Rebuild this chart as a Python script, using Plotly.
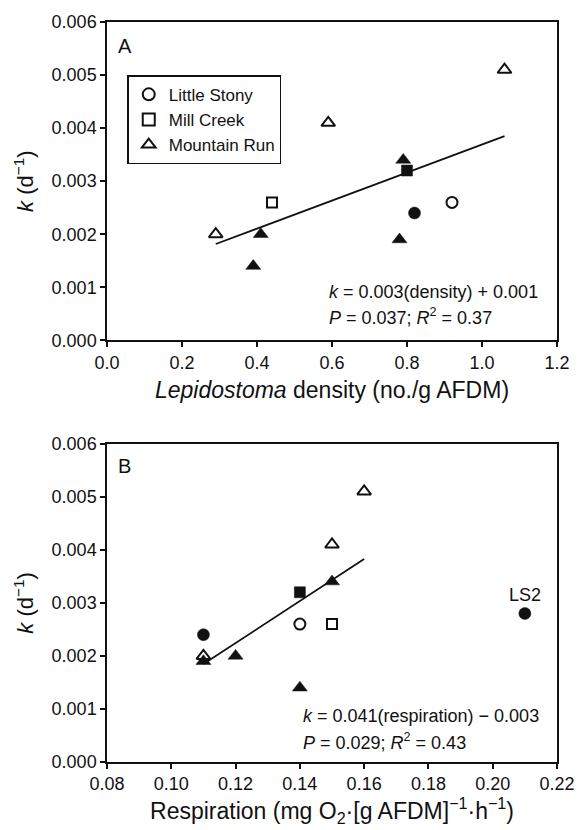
import plotly.graph_objects as go
from plotly.subplots import make_subplots

# ---- Panel A: Lepidostoma density vs k ----
a_ls_open_x = [0.92]; a_ls_open_y = [0.0026]
a_ls_fill_x = [0.82]; a_ls_fill_y = [0.0024]
a_mc_open_x = [0.44]; a_mc_open_y = [0.0026]
a_mc_fill_x = [0.80]; a_mc_fill_y = [0.0032]
a_mr_open_x = [0.29, 0.59, 1.06]; a_mr_open_y = [0.0020, 0.0041, 0.0051]
a_mr_fill_x = [0.39, 0.41, 0.78, 0.79]; a_mr_fill_y = [0.0014, 0.0020, 0.0019, 0.0034]
a_fit_x = [0.29, 1.06]; a_fit_slope = 0.00264; a_fit_icpt = 0.00105

# ---- Panel B: respiration vs k ----
b_ls_open_x = [0.14]; b_ls_open_y = [0.0026]
b_ls_fill_x = [0.11, 0.21]; b_ls_fill_y = [0.0024, 0.0028]
b_mc_open_x = [0.15]; b_mc_open_y = [0.0026]
b_mc_fill_x = [0.14]; b_mc_fill_y = [0.0032]
b_mr_open_x = [0.11, 0.15, 0.16]; b_mr_open_y = [0.0020, 0.0041, 0.0051]
b_mr_fill_x = [0.11, 0.12, 0.14, 0.15]; b_mr_fill_y = [0.0019, 0.0020, 0.0014, 0.0034]
b_fit_x = [0.11, 0.16]; b_fit_slope = 0.0396; b_fit_icpt = -0.00251

y_ticks = [0.000, 0.001, 0.002, 0.003, 0.004, 0.005, 0.006]
a_x_ticks = [0.0, 0.2, 0.4, 0.6, 0.8, 1.0, 1.2]
b_x_ticks = [0.08, 0.10, 0.12, 0.14, 0.16, 0.18, 0.20, 0.22]

FONT = "Liberation Sans, Arial, sans-serif"
BLACK = "#111111"

fig = make_subplots(rows=2, cols=1, vertical_spacing=0.1397)

def pts(x, y, sym, filled, row, name=None, legend=False, size=11):
    fig.add_trace(go.Scatter(
        x=x, y=y, mode="markers", name=name or "", showlegend=legend,
        marker=dict(symbol=sym, size=size,
                    color=BLACK if filled else "white",
                    line=dict(color=BLACK, width=2 if not filled else 0.5))),
        row=row, col=1)

def line(xs, slope, icpt, row):
    ys = [slope * v + icpt for v in xs]
    fig.add_trace(go.Scatter(x=xs, y=ys, mode="lines", showlegend=False,
                             line=dict(color=BLACK, width=1.8)), row=row, col=1)

line(a_fit_x, a_fit_slope, a_fit_icpt, 1)
pts(a_ls_open_x, a_ls_open_y, "circle", False, 1, "Little Stony", True, 11)
pts(a_mc_open_x, a_mc_open_y, "square", False, 1, "Mill Creek", True, 10)
pts(a_mr_open_x, a_mr_open_y, "triangle-up", False, 1, "Mountain Run", True, 12)
pts(a_ls_fill_x, a_ls_fill_y, "circle", True, 1, size=12)
pts(a_mc_fill_x, a_mc_fill_y, "square", True, 1, size=11)
pts(a_mr_fill_x, a_mr_fill_y, "triangle-up", True, 1, size=13)

line(b_fit_x, b_fit_slope, b_fit_icpt, 2)
pts(b_ls_open_x, b_ls_open_y, "circle", False, 2, size=11)
pts(b_mc_open_x, b_mc_open_y, "square", False, 2, size=10)
pts(b_mr_open_x, b_mr_open_y, "triangle-up", False, 2, size=12)
pts(b_ls_fill_x, b_ls_fill_y, "circle", True, 2, size=12)
pts(b_mc_fill_x, b_mc_fill_y, "square", True, 2, size=11)
pts(b_mr_fill_x, b_mr_fill_y, "triangle-up", True, 2, size=13)

axis_common = dict(showline=True, linecolor=BLACK, linewidth=1.5, mirror=True,
                   ticks="outside", ticklen=5, tickwidth=1.5, tickcolor=BLACK,
                   showgrid=False, zeroline=False,
                   tickfont=dict(family=FONT, size=18, color=BLACK))

ytitle = dict(text="<i>k</i> (d<sup>−1</sup>)", font=dict(family=FONT, size=22, color=BLACK), standoff=12)
for r in (1, 2):
    fig.update_yaxes(range=[0, 0.006], tickvals=y_ticks, tickformat=".3f",
                     title=ytitle, row=r, col=1, **axis_common)

fig.update_xaxes(range=[0, 1.2], tickvals=a_x_ticks, tickformat=".1f",
                 title=dict(text="<i>Lepidostoma</i> density (no./g AFDM)",
                            font=dict(family=FONT, size=23, color=BLACK), standoff=10),
                 row=1, col=1, **axis_common)
fig.update_xaxes(range=[0.08, 0.22], tickvals=b_x_ticks, tickformat=".2f",
                 title=dict(text="Respiration (mg O<sub>2</sub>·[g AFDM]<sup>−1</sup>·h<sup>−1</sup>)",
                            font=dict(family=FONT, size=23, color=BLACK), standoff=8),
                 row=2, col=1, **axis_common)

ann_font = dict(family=FONT, size=18, color=BLACK)
annots = [
    dict(x=0.047, y=0.00555, xref="x", yref="y", text="A", font=dict(family=FONT, size=20, color=BLACK)),
    dict(x=0.0855, y=0.00557, xref="x2", yref="y2", text="B", font=dict(family=FONT, size=20, color=BLACK)),
    dict(x=0.587, y=0.00091, xref="x", yref="y", text="<i>k</i> = 0.003(density) + 0.001", font=ann_font, xanchor="left"),
    dict(x=0.587, y=0.00045, xref="x", yref="y", text="<i>P</i> = 0.037; <i>R</i><sup>2</sup> = 0.37", font=ann_font, xanchor="left"),
    dict(x=0.1403, y=0.00086, xref="x2", yref="y2", text="<i>k</i> = 0.041(respiration) − 0.003", font=ann_font, xanchor="left"),
    dict(x=0.1403, y=0.00039, xref="x2", yref="y2", text="<i>P</i> = 0.029; <i>R</i><sup>2</sup> = 0.43", font=ann_font, xanchor="left"),
    dict(x=0.21, y=0.0028, xref="x2", yref="y2", text="LS2", font=ann_font, yshift=18),
]
for a in annots:
    a.setdefault("xanchor", "center")
    fig.add_annotation(showarrow=False, yanchor="middle", **a)

fig.update_layout(
    width=587, height=830, autosize=False,
    margin=dict(l=107, r=20, t=17, b=66),
    paper_bgcolor="white", plot_bgcolor="white",
    font=dict(family=FONT, color=BLACK),
    legend=dict(x=0.045, y=0.928, xanchor="left", yanchor="top",
                bordercolor=BLACK, borderwidth=1.5, bgcolor="white",
                font=dict(family=FONT, size=17, color=BLACK),
                itemsizing="constant", itemwidth=30, tracegroupgap=0),
)

fig.write_html("out.html")
